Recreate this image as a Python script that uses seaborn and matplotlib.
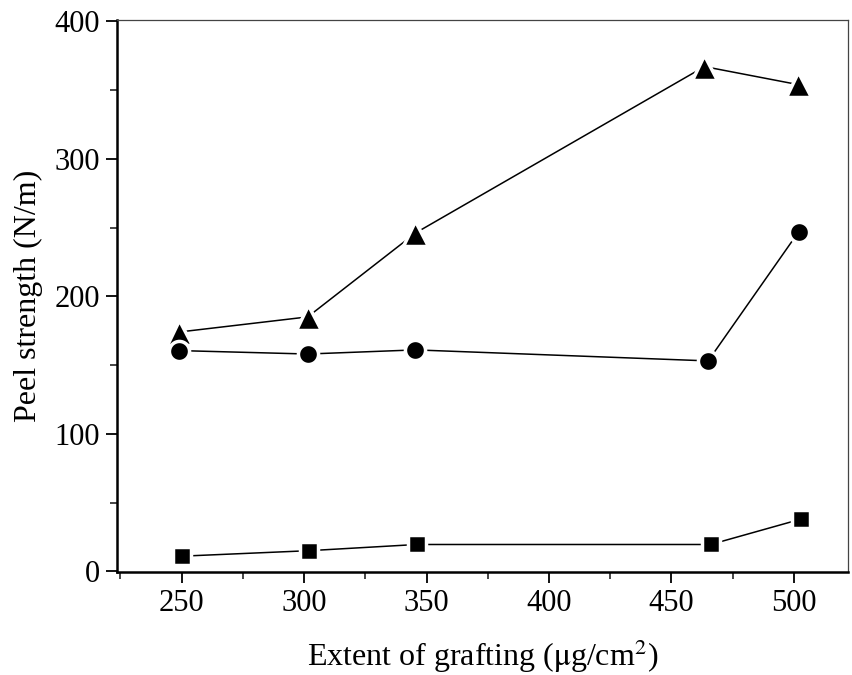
import matplotlib
matplotlib.use("Agg")
import matplotlib.pyplot as plt
import seaborn as sns
import pandas as pd
from matplotlib.ticker import MultipleLocator

# Data
tri_x = [249, 301.5, 345.5, 463.5, 501.5]
tri_y = [174, 185, 246, 367, 354]
circ_x = [249, 301.5, 345.5, 465, 502]
circ_y = [160.5, 158, 161, 153, 247]
sq_x = [250, 302, 346, 466, 503]
sq_y = [11, 15, 19.5, 19.5, 38]

sns.set_style("ticks")
plt.rcParams['font.family'] = ['Liberation Serif', 'DejaVu Serif']
plt.rcParams['mathtext.fontset'] = 'stix'

fig = plt.figure(figsize=(8.52, 6.75), dpi=100)
ax = fig.add_axes([0.137, 0.1526, 0.858, 0.818])

series = [
    ("tri", tri_x, tri_y, "^", 18),
    ("circ", circ_x, circ_y, "o", 14.5),
    ("sq", sq_x, sq_y, "s", 13),
]
for name, xs, ys, mk, ms in series:
    df = pd.DataFrame({"x": xs, "y": ys})
    sns.lineplot(data=df, x="x", y="y", ax=ax, color="black", lw=1.1,
                 marker=mk, markersize=ms, markerfacecolor="black",
                 markeredgecolor="white", markeredgewidth=2.5,
                 sort=False, estimator=None)

ax.set_xlim(223.5, 522)
ax.set_ylim(-0.5, 401)
ax.set_xticks([250, 300, 350, 400, 450, 500])
ax.set_yticks([0, 100, 200, 300, 400])
ax.xaxis.set_minor_locator(MultipleLocator(25))
ax.yaxis.set_minor_locator(MultipleLocator(50))
ax.tick_params(axis="both", which="major", direction="out", length=8, width=1.3,
               labelsize=22, pad=4, colors="black")
ax.tick_params(axis="both", which="minor", direction="out", length=5, width=1.2)

for side in ["left", "bottom"]:
    ax.spines[side].set_linewidth(1.8)
    ax.spines[side].set_color("black")
for side in ["top", "right"]:
    ax.spines[side].set_visible(True)
    ax.spines[side].set_linewidth(0.9)
    ax.spines[side].set_color("#444444")

ax.set_xlabel(r"Extent of grafting ($\mathrm{\mu}$g/cm$^2$)", fontsize=23,
              labelpad=14, color="black")
ax.set_ylabel("Peel strength (N/m)", fontsize=23, labelpad=8, color="black")

fig.savefig("out.png", dpi=100)
